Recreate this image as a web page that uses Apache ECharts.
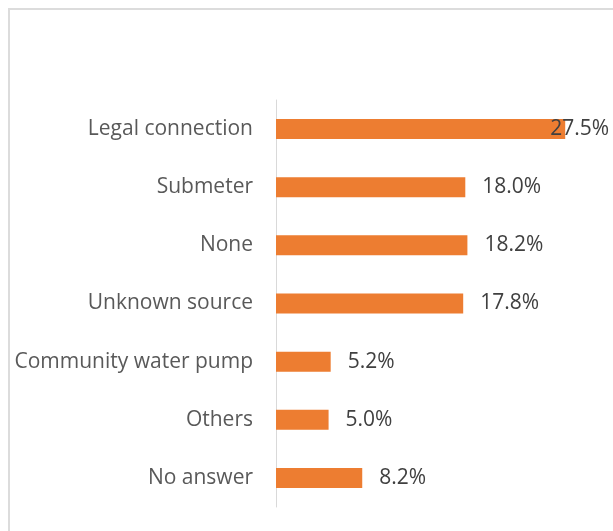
<!DOCTYPE html>
<html><head><meta charset="utf-8">
<script src="https://cdn.jsdelivr.net/npm/echarts@6/dist/echarts.min.js"></script>
<style>html,body{margin:0;padding:0;background:#fff}#c{width:613px;height:531px}</style>
</head><body><div id="c"></div>
<script>
const categories = ["Legal connection","Submeter","None","Unknown source","Community water pump","Others","No answer"];
const values = [27.5, 18.0, 18.2, 17.8, 5.2, 5.0, 8.2];
const chart = echarts.init(document.getElementById('c'));
const data = values.map((v, i) => i === 0 ? {value: v, label: {offset: [-32, 0]}} : v);
chart.setOption({
  animation: false,
  graphic: [{type: 'rect', shape: {x: 9, y: 9, width: 700, height: 600}, style: {fill: 'none', stroke: '#dcdcdc', lineWidth: 2}, silent: true}],
  grid: {left: 276, top: 100, bottom: 24, right: 21.5},
  xAxis: {type: 'value', min: 0, max: 30, show: false},
  yAxis: {type: 'category', data: categories, inverse: true,
    axisLine: {lineStyle: {color: '#d9d9d9', width: 1}}, axisTick: {show: false},
    axisLabel: {color: '#595959', fontSize: 21, fontFamily: 'Open Sans', margin: 23, padding: [3, 0, 0, 0]}},
  series: [{type: 'bar', data: data, barWidth: 20, itemStyle: {color: '#ED7D31'},
    label: {show: true, position: 'right', distance: 17, color: '#404040', fontSize: 21, fontFamily: 'Open Sans', padding: [3, 0, 0, 0],
      formatter: p => p.value.toFixed(1) + '%'}}]
});
</script></body></html>
